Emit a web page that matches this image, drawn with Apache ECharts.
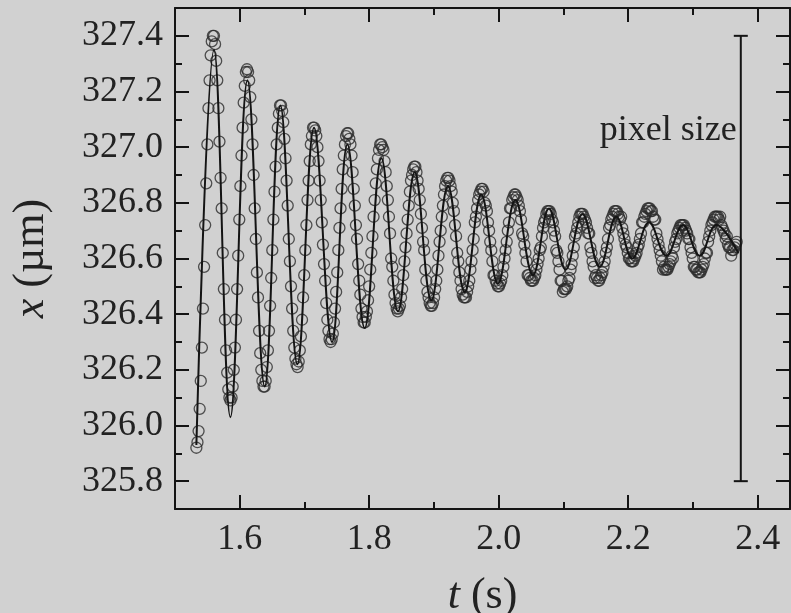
<!DOCTYPE html>
<html>
<head>
<meta charset="utf-8">
<title>x(t)</title>
<script src="https://cdn.jsdelivr.net/npm/echarts@6/dist/echarts.min.js"></script>
<style>
  html, body { margin: 0; padding: 0; background: #d1d1d1; }
  #chart { width: 791px; height: 613px; }
</style>
</head>
<body>
<div id="chart"></div>
<script>
// measured frames: time (s)
var obsT = [
  1.5330,1.5347,1.5364,1.5381,1.5398,1.5415,1.5432,1.5449,1.5466,1.5483,
  1.5500,1.5517,1.5534,1.5551,1.5568,1.5585,1.5602,1.5619,1.5636,1.5653,
  1.5670,1.5687,1.5704,1.5721,1.5738,1.5755,1.5772,1.5789,1.5806,1.5823,
  1.5840,1.5857,1.5874,1.5891,1.5908,1.5925,1.5942,1.5959,1.5976,1.5993,
  1.6010,1.6027,1.6044,1.6061,1.6078,1.6095,1.6112,1.6129,1.6146,1.6163,
  1.6180,1.6197,1.6214,1.6231,1.6248,1.6265,1.6282,1.6299,1.6316,1.6333,
  1.6350,1.6367,1.6384,1.6401,1.6418,1.6435,1.6452,1.6469,1.6486,1.6503,
  1.6520,1.6537,1.6554,1.6571,1.6588,1.6605,1.6622,1.6639,1.6656,1.6673,
  1.6690,1.6707,1.6724,1.6741,1.6758,1.6775,1.6792,1.6809,1.6826,1.6843,
  1.6860,1.6877,1.6894,1.6911,1.6928,1.6945,1.6962,1.6979,1.6996,1.7013,
  1.7030,1.7047,1.7064,1.7081,1.7098,1.7115,1.7132,1.7149,1.7166,1.7183,
  1.7200,1.7217,1.7234,1.7251,1.7268,1.7285,1.7302,1.7319,1.7336,1.7353,
  1.7370,1.7387,1.7404,1.7421,1.7438,1.7455,1.7472,1.7489,1.7506,1.7523,
  1.7540,1.7557,1.7574,1.7591,1.7608,1.7625,1.7642,1.7659,1.7676,1.7693,
  1.7710,1.7727,1.7744,1.7761,1.7778,1.7795,1.7812,1.7829,1.7846,1.7863,
  1.7880,1.7897,1.7914,1.7931,1.7948,1.7965,1.7982,1.7999,1.8016,1.8033,
  1.8050,1.8067,1.8084,1.8101,1.8118,1.8135,1.8152,1.8169,1.8186,1.8203,
  1.8220,1.8237,1.8254,1.8271,1.8288,1.8305,1.8322,1.8339,1.8356,1.8373,
  1.8390,1.8407,1.8424,1.8441,1.8458,1.8475,1.8492,1.8509,1.8526,1.8543,
  1.8560,1.8577,1.8594,1.8611,1.8628,1.8645,1.8662,1.8679,1.8696,1.8713,
  1.8730,1.8747,1.8764,1.8781,1.8798,1.8815,1.8832,1.8849,1.8866,1.8883,
  1.8900,1.8917,1.8934,1.8951,1.8968,1.8985,1.9002,1.9019,1.9036,1.9053,
  1.9070,1.9087,1.9104,1.9121,1.9138,1.9155,1.9172,1.9189,1.9206,1.9223,
  1.9240,1.9257,1.9274,1.9291,1.9308,1.9325,1.9342,1.9359,1.9376,1.9393,
  1.9410,1.9427,1.9444,1.9461,1.9478,1.9495,1.9512,1.9529,1.9546,1.9563,
  1.9580,1.9597,1.9614,1.9631,1.9648,1.9665,1.9682,1.9699,1.9716,1.9733,
  1.9750,1.9767,1.9784,1.9801,1.9818,1.9835,1.9852,1.9869,1.9886,1.9903,
  1.9920,1.9937,1.9954,1.9971,1.9988,2.0005,2.0022,2.0039,2.0056,2.0073,
  2.0090,2.0107,2.0124,2.0141,2.0158,2.0175,2.0192,2.0209,2.0226,2.0243,
  2.0260,2.0277,2.0294,2.0311,2.0328,2.0345,2.0362,2.0379,2.0396,2.0413,
  2.0430,2.0447,2.0464,2.0481,2.0498,2.0515,2.0532,2.0549,2.0566,2.0583,
  2.0600,2.0617,2.0634,2.0651,2.0668,2.0685,2.0702,2.0719,2.0736,2.0753,
  2.0770,2.0787,2.0804,2.0821,2.0838,2.0855,2.0872,2.0889,2.0906,2.0923,
  2.0940,2.0957,2.0974,2.0991,2.1008,2.1025,2.1042,2.1059,2.1076,2.1093,
  2.1110,2.1127,2.1144,2.1161,2.1178,2.1195,2.1212,2.1229,2.1246,2.1263,
  2.1280,2.1297,2.1314,2.1331,2.1348,2.1365,2.1382,2.1399,2.1416,2.1433,
  2.1450,2.1467,2.1484,2.1501,2.1518,2.1535,2.1552,2.1569,2.1586,2.1603,
  2.1620,2.1637,2.1654,2.1671,2.1688,2.1705,2.1722,2.1739,2.1756,2.1773,
  2.1790,2.1807,2.1824,2.1841,2.1858,2.1875,2.1892,2.1909,2.1926,2.1943,
  2.1960,2.1977,2.1994,2.2011,2.2028,2.2045,2.2062,2.2079,2.2096,2.2113,
  2.2130,2.2147,2.2164,2.2181,2.2198,2.2215,2.2232,2.2249,2.2266,2.2283,
  2.2300,2.2317,2.2334,2.2351,2.2368,2.2385,2.2402,2.2419,2.2436,2.2453,
  2.2470,2.2487,2.2504,2.2521,2.2538,2.2555,2.2572,2.2589,2.2606,2.2623,
  2.2640,2.2657,2.2674,2.2691,2.2708,2.2725,2.2742,2.2759,2.2776,2.2793,
  2.2810,2.2827,2.2844,2.2861,2.2878,2.2895,2.2912,2.2929,2.2946,2.2963,
  2.2980,2.2997,2.3014,2.3031,2.3048,2.3065,2.3082,2.3099,2.3116,2.3133,
  2.3150,2.3167,2.3184,2.3201,2.3218,2.3235,2.3252,2.3269,2.3286,2.3303,
  2.3320,2.3337,2.3354,2.3371,2.3388,2.3405,2.3422,2.3439,2.3456,2.3473,
  2.3490,2.3507,2.3524,2.3541,2.3558,2.3575,2.3592,2.3609,2.3626,2.3643,
  2.3660,2.3677
];
// measured position x (um), one per frame above
var obsX = [
  325.92,325.94,325.98,326.06,326.16,326.28,326.42,326.57,326.72,326.87,
  327.01,327.14,327.24,327.33,327.38,327.40,327.40,327.37,327.31,327.24,
  327.14,327.02,326.89,326.78,326.62,326.49,326.38,326.27,326.19,326.13,
  326.10,326.09,326.10,326.14,326.20,326.28,326.38,326.49,326.61,326.74,
  326.86,326.97,327.07,327.16,327.22,327.27,327.28,327.27,327.24,327.18,
  327.10,327.01,326.90,326.78,326.67,326.55,326.46,326.34,326.26,326.20,
  326.16,326.14,326.14,326.16,326.21,326.27,326.34,326.43,326.53,326.63,
  326.74,326.84,326.93,327.01,327.07,327.12,327.15,327.15,327.13,327.09,
  327.03,326.96,326.88,326.79,326.67,326.59,326.50,326.42,326.34,326.28,
  326.24,326.22,326.21,326.23,326.27,326.32,326.38,326.46,326.54,326.63,
  326.72,326.81,326.88,326.95,327.01,327.04,327.07,327.07,327.06,327.04,
  327.00,326.95,326.88,326.81,326.73,326.65,326.58,326.52,326.44,326.38,
  326.34,326.31,326.30,326.31,326.33,326.37,326.42,326.48,326.55,326.63,
  326.71,326.78,326.85,326.92,326.97,327.01,327.04,327.05,327.05,327.03,
  327.01,326.97,326.91,326.85,326.79,326.72,326.67,326.58,326.52,326.47,
  326.42,326.39,326.37,326.37,326.39,326.41,326.45,326.50,326.56,326.62,
  326.68,326.75,326.81,326.87,326.92,326.96,326.99,327.01,327.01,327.00,
  326.99,326.95,326.91,326.86,326.81,326.75,326.69,326.60,326.57,326.52,
  326.47,326.44,326.42,326.41,326.42,326.43,326.46,326.49,326.54,326.59,
  326.64,326.69,326.74,326.79,326.84,326.88,326.90,326.92,326.93,326.93,
  326.91,326.88,326.85,326.81,326.76,326.71,326.66,326.63,326.56,326.52,
  326.48,326.46,326.44,326.43,326.43,326.44,326.46,326.49,326.52,326.56,
  326.61,326.66,326.70,326.75,326.79,326.83,326.86,326.88,326.89,326.89,
  326.88,326.86,326.84,326.80,326.77,326.72,326.68,326.62,326.59,326.55,
  326.52,326.49,326.47,326.46,326.46,326.46,326.48,326.50,326.52,326.56,
  326.59,326.63,326.67,326.73,326.75,326.78,326.81,326.83,326.84,326.85,
  326.85,326.84,326.80,326.79,326.77,326.73,326.70,326.66,326.63,326.59,
  326.54,326.54,326.52,326.51,326.50,326.50,326.51,326.52,326.54,326.57,
  326.60,326.63,326.66,326.70,326.73,326.78,326.78,326.81,326.82,326.83,
  326.83,326.82,326.81,326.79,326.77,326.74,326.69,326.68,326.65,326.62,
  326.59,326.54,326.54,326.53,326.52,326.52,326.52,326.53,326.54,326.56,
  326.58,326.60,326.63,326.64,326.68,326.71,326.73,326.74,326.76,326.77,
  326.77,326.77,326.76,326.74,326.73,326.70,326.68,326.63,326.62,326.59,
  326.56,326.52,326.52,326.48,326.49,326.49,326.49,326.50,326.52,326.53,
  326.56,326.58,326.61,326.64,326.68,326.69,326.71,326.73,326.75,326.76,
  326.76,326.76,326.75,326.74,326.73,326.71,326.69,326.69,326.64,326.62,
  326.59,326.57,326.53,326.54,326.53,326.52,326.52,326.53,326.54,326.55,
  326.57,326.59,326.62,326.64,326.67,326.71,326.72,326.74,326.75,326.76,
  326.77,326.77,326.77,326.76,326.75,326.74,326.75,326.71,326.69,326.67,
  326.65,326.64,326.62,326.60,326.60,326.59,326.59,326.59,326.60,326.61,
  326.62,326.64,326.65,326.67,326.69,326.73,326.73,326.75,326.76,326.77,
  326.78,326.78,326.78,326.77,326.77,326.75,326.74,326.74,326.69,326.67,
  326.65,326.63,326.61,326.59,326.56,326.57,326.56,326.56,326.56,326.57,
  326.58,326.59,326.61,326.60,326.64,326.66,326.67,326.69,326.70,326.71,
  326.72,326.72,326.72,326.72,326.71,326.70,326.69,326.67,326.67,326.64,
  326.62,326.60,326.57,326.57,326.56,326.56,326.55,326.55,326.55,326.56,
  326.57,326.58,326.60,326.62,326.62,326.66,326.68,326.70,326.72,326.73,
  326.74,326.75,326.75,326.75,326.75,326.74,326.75,326.72,326.71,326.70,
  326.69,326.67,326.68,326.65,326.64,326.64,326.61,326.63,326.63,326.64,
  326.65,326.66
];

// fitted damped oscillation: turning points of the curve
var fitT = [1.5330, 1.5603, 1.5856, 1.6119, 1.6386, 1.6628, 1.6891, 1.7148, 1.7426, 1.7663, 1.7931,
            1.8188, 1.8445, 1.8703, 1.8960, 1.9217, 1.9475, 1.9732, 1.9989, 2.0258, 2.0530, 2.0777,
            2.1035, 2.1293, 2.1560, 2.1818, 2.2065, 2.2322, 2.2590, 2.2847, 2.3104, 2.3362, 2.3700];
var fitX = [325.93, 327.35, 326.03, 327.24, 326.14, 327.15, 326.22, 327.07, 326.30, 327.01, 326.35,
            326.96, 326.41, 326.91, 326.45, 326.86, 326.48, 326.83, 326.51, 326.81, 326.54, 326.78,
            326.56, 326.76, 326.57, 326.75, 326.60, 326.73, 326.61, 326.72, 326.61, 326.72, 326.62];

// pixel size marker
var pixelBar = [2.374, 325.8, 327.4];
var pixelLabel = 'pixel size';
var pixelLabelY = 327.06;

var xMajor = [1.6, 1.8, 2.0, 2.2, 2.4];
var xMinor = [1.7, 1.9, 2.1, 2.3];
var yMajor = [325.8, 326.0, 326.2, 326.4, 326.6, 326.8, 327.0, 327.2, 327.4];
var yMinor = [325.9, 326.1, 326.3, 326.5, 326.7, 326.9, 327.1, 327.3];

var ink = '#141414';
var serif = '"Liberation Serif", "DejaVu Serif", serif';

var points = obsT.map(function (t, i) { return [t, obsX[i]]; });
var fit = fitT.map(function (t, i) { return [t, fitX[i]]; });

function xAx(pos, ticks, len, withLine, withLabel) {
    return {
        type: 'value', min: 1.5, max: 2.45, position: pos,
        axisLine: { show: withLine, onZero: false, lineStyle: { color: ink, width: 2 } },
        axisTick: { show: true, inside: true, length: len, customValues: ticks, lineStyle: { color: ink, width: 2 } },
        axisLabel: {
            show: withLabel, customValues: ticks, margin: 13,
            fontFamily: serif, fontSize: 36, color: '#222',
            formatter: function (v) { return v.toFixed(1); }
        },
        splitLine: { show: false }
    };
}
function yAx(pos, ticks, len, withLine, withLabel) {
    return {
        type: 'value', min: 325.7, max: 327.5, position: pos,
        axisLine: { show: withLine, onZero: false, lineStyle: { color: ink, width: 2 } },
        axisTick: { show: true, inside: true, length: len, customValues: ticks, lineStyle: { color: ink, width: 2 } },
        axisLabel: {
            show: withLabel, customValues: ticks, margin: 12,
            fontFamily: serif, fontSize: 36, color: '#222',
            formatter: function (v) { return v.toFixed(1); }
        },
        splitLine: { show: false }
    };
}

var xBottom = xAx('bottom', xMajor, 14, true, true);
xBottom.name = '{i|t} (s)';
xBottom.nameLocation = 'middle';
xBottom.nameGap = 65;
xBottom.nameTextStyle = { fontFamily: serif, fontSize: 44, color: '#222',
    rich: { i: { fontFamily: serif, fontSize: 44, fontStyle: 'italic', color: '#222' } } };

var yLeft = yAx('left', yMajor, 14, true, true);
yLeft.name = '{i|x} (µm)';
yLeft.nameLocation = 'middle';
yLeft.nameGap = 122;
yLeft.nameTextStyle = { fontFamily: serif, fontSize: 44, color: '#222',
    rich: { i: { fontFamily: serif, fontSize: 44, fontStyle: 'italic', color: '#222' } } };

var chart = echarts.init(document.getElementById('chart'));
chart.setOption({
    backgroundColor: '#d1d1d1',
    animation: false,
    grid: { left: 175, right: 1, top: 8, bottom: 104, outerBoundsMode: 'none' },
    xAxis: [
        xBottom,
        xAx('bottom', xMinor, 7, false, false),
        xAx('top', xMajor, 14, true, false),
        xAx('top', xMinor, 7, false, false)
    ],
    yAxis: [
        yLeft,
        yAx('left', yMinor, 7, false, false),
        yAx('right', yMajor, 14, true, false),
        yAx('right', yMinor, 7, false, false)
    ],
    series: [
        {
            type: 'scatter',
            data: points,
            symbol: 'circle',
            symbolSize: 11,
            itemStyle: { color: 'rgba(0,0,0,0)', borderColor: '#2c2c2c', borderWidth: 1.3 },
            z: 2
        },
        {
            type: 'line',
            data: fit,
            showSymbol: false,
            smooth: 0.4,
            lineStyle: { color: ink, width: 2 },
            z: 3
        },
        {
            type: 'custom',
            data: [pixelBar],
            z: 4,
            renderItem: function (params, api) {
                var t = api.value(0);
                var lo = api.coord([t, api.value(1)]);
                var hi = api.coord([t, api.value(2)]);
                var lab = api.coord([t, pixelLabelY]);
                var cap = 7;
                var st = { stroke: ink, lineWidth: 2 };
                return {
                    type: 'group',
                    children: [
                        { type: 'line', shape: { x1: hi[0], y1: hi[1], x2: lo[0], y2: lo[1] }, style: st },
                        { type: 'line', shape: { x1: hi[0] - cap, y1: hi[1], x2: hi[0] + cap, y2: hi[1] }, style: st },
                        { type: 'line', shape: { x1: lo[0] - cap, y1: lo[1], x2: lo[0] + cap, y2: lo[1] }, style: st },
                        { type: 'text', x: lab[0] - 4, y: lab[1],
                          style: { text: pixelLabel, fill: '#222', font: '36px ' + serif, align: 'right', verticalAlign: 'middle' } }
                    ]
                };
            }
        }
    ]
});
</script>
</body>
</html>
